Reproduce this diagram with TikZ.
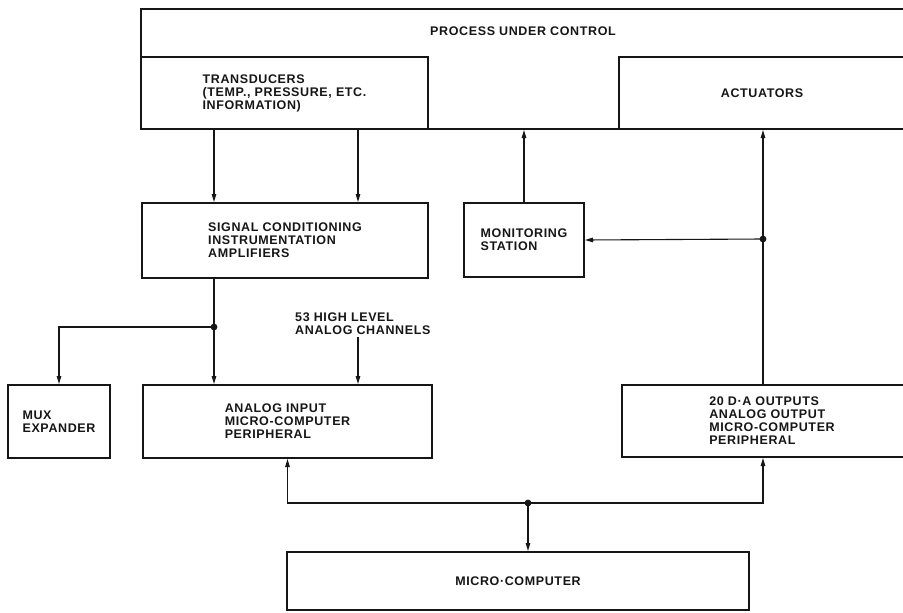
\documentclass[tikz,border=0pt]{standalone}
\usepackage{fontspec}
\setmainfont{Liberation Sans}[LetterSpace=5]
\usepackage{xcolor}
\definecolor{inkDark}{HTML}{161616}
\usepackage{tikz}
\usetikzlibrary{positioning,calc,arrows.meta}
\tikzset{%
  blockBox/.style={%
    rectangle,
    draw=inkDark,
    line width=2pt,
    fill=white,
    inner sep=0pt,
    align=left
  },
  arrowLine/.style={%
    -{Triangle[length=8pt,width=4.5pt]},
    line width=1.1pt,
    color=inkDark
  },
  plainLine/.style={%
    line width=1.1pt,
    color=inkDark
  }
}

\begin{document}
\begin{tikzpicture}[x=1pt,y=-1pt,text=inkDark,font=\bfseries\fontsize{12.5}{13}\selectfont]
            \useasboundingbox (0,0) rectangle (903,613);
            \clip (0,0) rectangle (903,613);
            \fill[white] (0,0) rectangle (903,613);

            \node[blockBox, minimum width=764pt, minimum height=120pt,
                  label={[anchor=center, yshift=-23pt]north:PROCESS UNDER CONTROL}] (process) at (523,69) {};
            \node[blockBox, minimum width=287pt, minimum height=72pt] (trans) at (284.5,93) {TRANSDUCERS\\(TEMP., PRESSURE, ETC.\\INFORMATION)};
            \node[blockBox, minimum width=286pt, minimum height=72pt] (act) at (762,93) {ACTUATORS};

            \node[blockBox, minimum width=286pt, minimum height=75pt] (signal) at (285,240.5) {SIGNAL CONDITIONING\\INSTRUMENTATION\\AMPLIFIERS};
            \node[blockBox, minimum width=120pt, minimum height=74pt] (monitor) at (524,240) {MONITORING\\STATION};

            \node[align=left, inner sep=2pt, anchor=west] (chans) at (293,324) {53 HIGH LEVEL\\ANALOG CHANNELS};

            \node[blockBox, minimum width=102pt, minimum height=73pt] (mux) at (59,421.5) {MUX\\EXPANDER};
            \node[blockBox, minimum width=289pt, minimum height=73pt] (ain) at (287.5,421.5) {ANALOG INPUT\\MICRO-COMPUTER\\PERIPHERAL};
            \node[blockBox, minimum width=300pt, minimum height=72pt] (aout) at (772,421) {20 D·A OUTPUTS\\ANALOG OUTPUT\\MICRO-COMPUTER\\PERIPHERAL};

            \node[blockBox, minimum width=462pt, minimum height=58pt] (micro) at (518,581) {MICRO·COMPUTER};

            \coordinate (tapA) at (214,327);
            \coordinate (tapB) at (763,239);
            \coordinate (tapC) at (528,503);
            \coordinate (feedR) at (358,0);

            \draw[arrowLine] (trans.south -| tapA) -- (signal.north -| tapA);
            \draw[arrowLine] (trans.south -| feedR) -- (signal.north -| feedR);
            \draw[arrowLine] (monitor.north) -- (monitor.north |- process.south);
            \draw[arrowLine] (aout.north -| tapB) -- (process.south -| tapB);
            \draw[arrowLine] (tapB) -- (monitor.east);

            \draw[plainLine] (signal.south -| tapA) -- (tapA);
            \draw[arrowLine] (tapA) -- (ain.north -| tapA);
            \draw[arrowLine] (tapA) -| (mux.north);
            \draw[arrowLine] (chans.south -| feedR) -- (ain.north -| feedR);

            \draw[arrowLine] (tapC) -- (micro.north -| tapC);
            \draw[arrowLine] (tapC) -| (ain.south);
            \draw[arrowLine] (tapC) -| (aout.south -| tapB);

            \fill[inkDark] (tapA) circle (3.4pt) (tapB) circle (3.4pt) (tapC) circle (3.4pt);
        \end{tikzpicture}
\end{document}
